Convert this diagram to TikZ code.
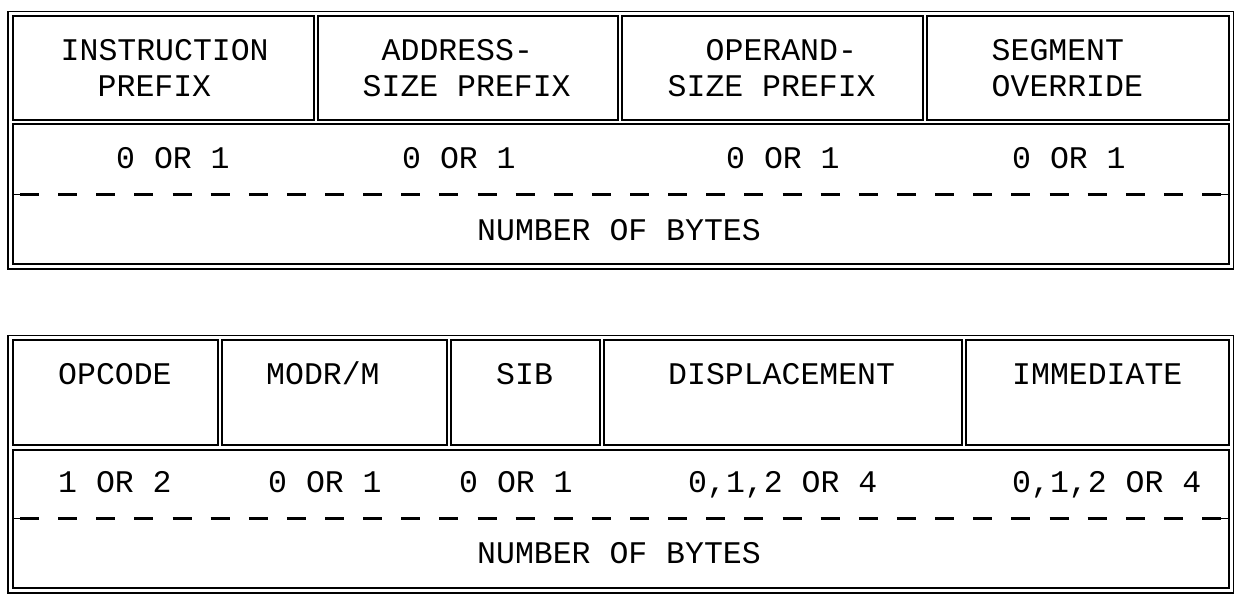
\documentclass[tikz,border=0pt]{standalone}
\usepackage{fontspec}
\setmonofont{Liberation Mono}
\begin{document}
\begin{tikzpicture}[x=1pt,y=-1pt,
    frame/.style={draw=black,line width=1.6pt},
    cell/.style={draw=black,line width=2pt},
    sepline/.style={draw=black,line width=2.2pt,dash pattern=on 19pt off 19.13pt,dash phase=31.13pt},
    sepend/.style={draw=black,line width=1pt},
    lbl/.style={inner sep=0pt,anchor=base west,font=\ttfamily\fontsize{31.5}{36}\selectfont}]
  \useasboundingbox (0,0) rectangle (1251,611);

  % prefix bytes
  \draw[frame] (8,11.5) rectangle (1233.5,269);
  \draw[cell] (13,16) rectangle (314,120);
  \draw[cell] (318,16) rectangle (618,120);
  \draw[cell] (622,16) rectangle (923,120);
  \draw[cell] (927,16) rectangle (1229,120);
  \draw[cell] (13,124) rectangle (1229,264);
  \draw[sepline] (13,194.5) -- (1229,194.5);
  \draw[sepend] (13,194.5) -- (21,194.5) (1220,194.5) -- (1229,194.5);

  \node[lbl] (instr1) at (60.5,60) {INSTRUCTION};
  \node[lbl] (instr2) at (97.5,96) {PREFIX};
  \node[lbl] (addr1) at (381.5,60) {ADDRESS-};
  \node[lbl] (addr2) at (362.5,96) {SIZE PREFIX};
  \node[lbl] (oper1) at (705.5,60) {OPERAND-};
  \node[lbl] (oper2) at (667.5,96) {SIZE PREFIX};
  \node[lbl] (seg1) at (991.5,60) {SEGMENT};
  \node[lbl] (seg2) at (991.5,96) {OVERRIDE};

  \node[lbl] (ninstr) at (116,168) {0 OR 1};
  \node[lbl] (naddr) at (402,168) {0 OR 1};
  \node[lbl] (noper) at (726,168) {0 OR 1};
  \node[lbl] (nseg) at (1012,168) {0 OR 1};
  \node[lbl] (bytestop) at (477,240) {NUMBER OF BYTES};

  % instruction bytes
  \draw[frame] (8,335.5) rectangle (1233.5,593);
  \draw[cell] (13,340) rectangle (218,445);
  \draw[cell] (222,340) rectangle (447,445);
  \draw[cell] (451,340) rectangle (600,445);
  \draw[cell] (604,340) rectangle (962,445);
  \draw[cell] (966,340) rectangle (1229,445);
  \draw[cell] (13,450) rectangle (1229,588);
  \draw[sepline] (13,518.5) -- (1229,518.5);
  \draw[sepend] (13,518.5) -- (21,518.5) (1220,518.5) -- (1229,518.5);

  \node[lbl] (opc) at (58,384) {OPCODE};
  \node[lbl] (modrm) at (266,384) {MODR/M};
  \node[lbl] (sib) at (496,384) {SIB};
  \node[lbl] (disp) at (668,384) {DISPLACEMENT};
  \node[lbl] (imm) at (1012,384) {IMMEDIATE};

  \node[lbl] (nopc) at (58,492) {1 OR 2};
  \node[lbl] (nmodrm) at (268,492) {0 OR 1};
  \node[lbl] (nsib) at (459,492) {0 OR 1};
  \node[lbl] (ndisp) at (688,492) {0,1,2 OR 4};
  \node[lbl] (nimm) at (1012,492) {0,1,2 OR 4};
  \node[lbl] (bytesbot) at (477,563) {NUMBER OF BYTES};
\end{tikzpicture}
\end{document}
